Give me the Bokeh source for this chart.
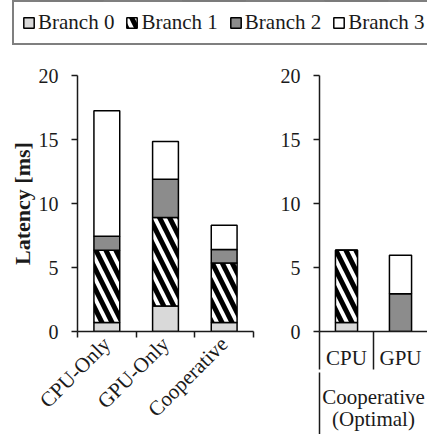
import math
from bokeh.plotting import figure
from bokeh.models import ColumnDataSource, Range1d, FixedTicker, LinearAxis, Legend, LegendItem
from bokeh.layouts import column, row
from bokeh.embed import file_html
from bokeh.resources import INLINE

FONT = "Liberation Serif"
INK = "#1a1a1a"

# ---- data ----
categories = ["CPU-Only", "GPU-Only", "Cooperative"]
branch0 = [0.7, 2.0, 0.7]
branch1 = [5.65, 6.9, 4.65]
branch2 = [1.1, 3.0, 1.05]
branch3 = [9.8, 2.95, 1.9]

opt_categories = ["CPU", "GPU"]
opt_group = "Cooperative\n(Optimal)"
opt_branch0 = [0.7, 0.0]
opt_branch1 = [5.65, 0.0]
opt_branch2 = [0.0, 2.95]
opt_branch3 = [0.0, 3.0]

y_ticks = [0, 5, 10, 15, 20]
series = ["Branch 0", "Branch 1", "Branch 2", "Branch 3"]

# ---- styles ----
fills = ["#d9d9d9", "white", "#8c8c8c", "white"]
hatches = [" ", "\\", " ", " "]
keys = ["b0", "b1", "b2", "b3"]


def stack(p, src, width):
    return p.vbar_stack(keys, x="x", width=width, source=src,
                        fill_color=fills, hatch_pattern=hatches,
                        hatch_color="black", hatch_weight=5, hatch_scale=20,
                        line_color="black", line_width=1.5)


def style_y(p):
    ax = p.yaxis[0]
    ax.ticker = FixedTicker(ticks=y_ticks)
    ax.major_tick_in = 0
    ax.major_tick_out = 6
    ax.minor_tick_line_color = None
    ax.major_label_text_font = FONT
    ax.major_label_text_font_size = "20px"
    ax.major_label_text_color = INK
    ax.major_label_standoff = 13
    ax.axis_line_color = INK
    ax.axis_line_width = 1.5
    ax.major_tick_line_color = INK
    ax.major_tick_line_width = 1.5


# ---- left panel ----
src1 = ColumnDataSource(dict(x=[i + 0.5 for i in range(len(categories))],
                             b0=branch0, b1=branch1, b2=branch2, b3=branch3))
p1 = figure(width=260, height=384, x_range=Range1d(0, len(categories)),
            y_range=Range1d(0, 20), output_backend="svg", toolbar_location=None,
            min_border_left=77, min_border_right=7, min_border_top=25, min_border_bottom=103)
stack(p1, src1, 0.44)
p1.grid.visible = False
p1.outline_line_color = None
style_y(p1)
p1.yaxis[0].axis_label = "Latency [ms]"
p1.yaxis[0].axis_label_text_font = FONT
p1.yaxis[0].axis_label_text_font_style = "bold"
p1.yaxis[0].axis_label_text_font_size = "22px"
p1.yaxis[0].axis_label_text_color = INK
p1.yaxis[0].axis_label_standoff = 1

xa = p1.xaxis[0]
xa.ticker = FixedTicker(ticks=[i + 0.5 for i in range(len(categories))],
                        minor_ticks=list(range(len(categories) + 1)))
xa.major_label_overrides = {i + 0.5: c for i, c in enumerate(categories)}
xa.major_tick_out = 0
xa.major_tick_in = 0
xa.minor_tick_out = 6
xa.minor_tick_in = 0
xa.minor_tick_line_color = INK
xa.minor_tick_line_width = 1.5
xa.axis_line_color = INK
xa.axis_line_width = 1.5
xa.major_label_orientation = math.pi / 4
xa.major_label_text_font = FONT
xa.major_label_text_font_size = "21px"
xa.major_label_text_color = INK
xa.major_label_standoff = 3

# ---- right panel ----
src2 = ColumnDataSource(dict(x=[i + 0.5 for i in range(len(opt_categories))],
                             b0=opt_branch0, b1=opt_branch1, b2=opt_branch2, b3=opt_branch3))
p2 = figure(width=167, height=384, x_range=Range1d(0, len(opt_categories)),
            y_range=Range1d(0, 20), output_backend="svg", toolbar_location=None,
            min_border_left=59, min_border_right=0, min_border_top=25, min_border_bottom=103)
stack(p2, src2, 0.41)
p2.grid.visible = False
p2.outline_line_color = None
style_y(p2)

xb = p2.xaxis[0]
xb.ticker = FixedTicker(ticks=[i + 0.5 for i in range(len(opt_categories))],
                        minor_ticks=list(range(len(opt_categories))))
xb.major_label_overrides = {i + 0.5: c for i, c in enumerate(opt_categories)}
xb.major_tick_out = 0
xb.major_tick_in = 0
xb.minor_tick_out = 38
xb.minor_tick_in = 0
xb.minor_tick_line_color = INK
xb.minor_tick_line_width = 1.5
xb.axis_line_color = INK
xb.axis_line_width = 1.5
xb.major_label_text_font = FONT
xb.major_label_text_font_size = "21px"
xb.major_label_text_color = INK
xb.major_label_standoff = -24

xg = LinearAxis(ticker=FixedTicker(ticks=[len(opt_categories) / 2], minor_ticks=[0]))
xg.major_label_overrides = {len(opt_categories) / 2: opt_group}
xg.major_tick_out = 0
xg.major_tick_in = 0
xg.minor_tick_out = 80
xg.minor_tick_in = 0
xg.minor_tick_line_color = INK
xg.minor_tick_line_width = 1.5
xg.axis_line_color = None
xg.major_label_text_font = FONT
xg.major_label_text_font_size = "21px"
xg.major_label_text_line_height = 0.95
xg.major_label_text_color = INK
xg.major_label_standoff = -68
p2.add_layout(xg, "below")

# ---- legend panel ----
pl = figure(width=427, height=50, x_range=Range1d(0, len(categories)),
            y_range=Range1d(-2, -1), output_backend="svg", toolbar_location=None,
            x_axis_type=None, y_axis_type=None, min_border=0)
pl.grid.visible = False
pl.outline_line_color = None
rs = stack(pl, src1, 0.44)
legend = Legend(items=[LegendItem(label=s, renderers=[r]) for s, r in zip(series, rs)],
                orientation="horizontal", location=(12, 5),
                label_text_font=FONT, label_text_font_size="21px", label_text_color=INK,
                glyph_width=13, glyph_height=13, label_standoff=3, spacing=11,
                padding=8, margin=0, border_line_color="black", border_line_width=2)
pl.add_layout(legend, "center")

layout = column(pl, row(p1, p2))
open("out.html", "w").write(file_html(layout, INLINE))
